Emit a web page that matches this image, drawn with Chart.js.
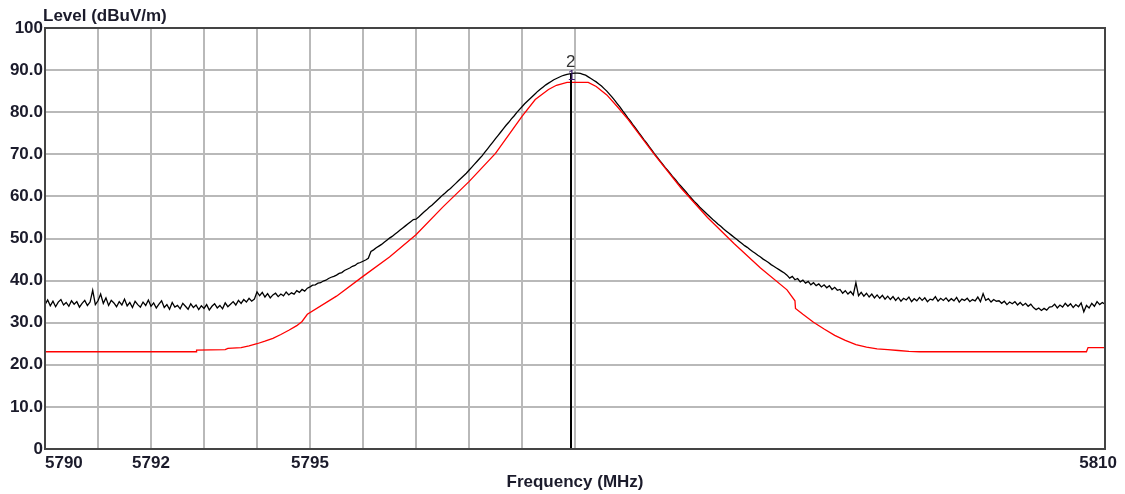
<!DOCTYPE html>
<html>
<head>
<meta charset="utf-8">
<script src="https://cdn.jsdelivr.net/npm/chart.js@4.4.1/dist/chart.umd.min.js"></script>
<style>
  html, body { margin: 0; padding: 0; background: #fff; }
  #myChart { display: block; }
</style>
</head>
<body>
<canvas id="myChart" width="1125" height="494"></canvas>
<script>
// black trace: peak level, one reading every 0.05 MHz from 5790 to 5810 (one row per MHz)
var blackStart = 5790;
var blackStep = 0.05;
var blackLevel = [
  34.3, 35.4, 34.0, 35.1, 33.8, 34.9, 35.5, 34.2, 34.8, 33.9, 35.2, 34.4, 35.0, 33.7, 34.6, 35.3, 34.1, 34.9, 37.7, 34.3,
  35.2, 36.8, 34.6, 35.9, 34.1, 35.3, 34.7, 33.8, 35.0, 34.2, 35.6, 34.0, 34.8, 33.6, 35.1, 34.3, 33.7, 34.9, 34.1, 35.4,
  33.9, 34.7, 33.5, 34.4, 35.2, 33.6, 34.3, 33.2, 34.8, 33.7, 34.1, 33.3, 34.6, 33.9, 33.2, 34.5, 33.6, 34.2, 33.1, 34.0,
  33.4, 34.3, 33.0, 33.9, 34.5, 33.5, 34.1, 33.3, 34.7, 33.8, 34.4, 35.0, 34.2, 35.3, 34.6, 35.5, 34.9, 35.8, 35.1, 35.6,
  37.3, 36.4, 37.2, 36.1, 36.9, 35.9, 36.6, 37.0, 36.2, 36.8, 36.4, 37.3, 36.6, 37.1, 36.8, 37.6, 37.2, 37.9, 37.5, 38.2,
  38.5, 38.9, 39.0, 39.4, 39.5, 39.9, 40.1, 40.5, 40.8, 41.0, 41.3, 41.7, 41.9, 42.4, 42.7, 43.0, 43.4, 43.6, 44.1, 44.3,
  44.6, 44.9, 45.3, 46.9, 47.3, 47.8, 48.2, 48.6, 49.1, 49.6, 50.1, 50.5, 51.0, 51.5, 52.0, 52.5, 53.0, 53.5, 54.0, 54.5,
  54.6, 55.1, 55.7, 56.3, 56.8, 57.4, 57.9, 58.5, 59.1, 59.7, 60.3, 60.8, 61.4, 61.9, 62.5, 63.1, 63.7, 64.3, 64.9, 65.5,
  66.2, 66.9, 67.6, 68.3, 69.0, 69.7, 70.5, 71.3, 72.1, 72.9, 73.7, 74.5, 75.3, 76.1, 76.9, 77.6, 78.4, 79.1, 79.9, 80.6,
  81.3, 82.0, 82.6, 83.2, 83.8, 84.4, 85.0, 85.5, 86.0, 86.5, 86.9, 87.3, 87.7, 88.0, 88.3, 88.6, 88.8, 89.0, 89.1, 89.2,
  89.3, 89.3, 89.2, 89.0, 88.8, 88.4, 88.0, 87.6, 87.2, 86.7, 86.2, 85.6, 85.0, 84.3, 83.6, 82.8, 82.0, 81.2, 80.3, 79.5,
  78.6, 77.8, 76.9, 76.1, 75.2, 74.4, 73.5, 72.7, 71.8, 71.0, 70.1, 69.3, 68.5, 67.7, 66.9, 66.2, 65.4, 64.6, 63.9, 63.1,
  62.4, 61.7, 61.0, 60.2, 59.5, 58.8, 58.2, 57.5, 56.9, 56.3, 55.7, 55.1, 54.5, 54.0, 53.4, 52.9, 52.3, 51.8, 51.3, 50.8,
  50.3, 49.8, 49.3, 48.8, 48.3, 47.9, 47.4, 46.9, 46.5, 46.0, 45.6, 45.1, 44.7, 44.3, 43.8, 43.4, 43.0, 42.6, 42.2, 41.8,
  41.3, 40.6, 41.0, 40.2, 40.5, 39.7, 40.1, 39.4, 39.8, 39.0, 39.5, 38.8, 39.2, 38.5, 39.0, 38.3, 38.8, 37.9, 38.4, 37.7,
  37.9, 37.0, 37.6, 36.8, 37.4, 36.6, 39.5, 36.4, 37.2, 36.3, 37.0, 36.1, 36.8, 35.9, 36.6, 35.8, 36.5, 35.6, 36.3, 35.5,
  36.2, 35.3, 36.0, 35.1, 35.8, 35.4, 36.1, 35.0, 35.7, 35.2, 36.0, 35.3, 35.9, 35.0, 35.6, 35.4, 36.2, 35.1, 35.8, 35.3,
  35.9, 35.1, 35.7, 35.2, 36.0, 34.9, 35.6, 35.3, 35.8, 35.0, 35.5, 35.2, 36.1, 35.0, 36.9, 35.3, 35.7, 34.9, 35.5, 35.1,
  35.2, 34.6, 35.1, 34.3, 34.9, 34.5, 35.0, 34.2, 34.8, 34.1, 34.6, 33.9, 34.4, 33.6, 33.1, 33.5, 32.9, 33.4, 33.0, 33.7,
  33.8, 34.4, 33.5, 34.2, 33.7, 34.6, 33.9, 34.5, 33.6, 34.3, 33.8, 34.7, 32.6, 34.1, 33.5, 34.6, 33.9, 35.0, 34.3, 34.8,
  34.4
];

// red trace: average level, read at the bends of the curve
var redFreq = [
  5790.0, 5792.85, 5792.86, 5793.4, 5793.45, 5793.7, 5793.85, 5794.0, 5794.15, 5794.3,
  5794.45, 5794.6, 5794.75, 5794.85, 5794.95, 5795.5, 5796.0, 5796.5, 5797.0, 5797.5,
  5798.0, 5798.5, 5798.75, 5799.0, 5799.25, 5799.5, 5799.65, 5799.85, 5800.25, 5800.4,
  5800.6, 5800.8, 5801.0, 5801.5, 5802.0, 5802.5, 5803.0, 5803.5, 5804.0, 5804.15,
  5804.16, 5804.3, 5804.5, 5804.7, 5804.9, 5805.1, 5805.3, 5805.5, 5805.7, 5805.9,
  5806.1, 5806.3, 5806.5, 5809.65, 5809.68, 5810.0
];
var redLevel = [
  23.1, 23.1, 23.5, 23.6, 23.9, 24.1, 24.5, 25.0, 25.6, 26.3,
  27.2, 28.2, 29.3, 30.3, 32.0, 36.3, 41.0, 45.6, 50.9, 57.4,
  63.5, 70.2, 74.6, 79.0, 83.0, 85.4, 86.4, 87.1, 87.1, 86.1,
  84.1, 81.3, 78.3, 69.9, 62.0, 55.0, 48.8, 43.0, 37.8, 35.2,
  33.4, 32.0, 30.1, 28.5, 27.0, 25.8, 24.8, 24.2, 23.8, 23.6,
  23.4, 23.2, 23.1, 23.1, 24.1, 24.1
];

// markers 1 and 2
var markerName = ['1', '2'];
var markerFreq = [5799.92, 5799.92];
var markerLevel = [87.1, 89.2];

var gridFreq = [5790, 5791, 5792, 5793, 5794, 5795, 5796, 5797, 5798, 5799, 5800, 5810];
var labelFreq = [5790, 5792, 5795, 5810];
var yTicks = [0, 10, 20, 30, 40, 50, 60, 70, 80, 90, 100];

var textColor = '#1b1b2b';
var labelFont = 'bold 17px "Liberation Sans", Arial, sans-serif';

function toPoints(xs, ys) {
  var pts = [];
  for (var i = 0; i < ys.length; i++) {
    pts.push({ x: xs[i], y: ys[i] });
  }
  return pts;
}

var blackFreq = [];
for (var i = 0; i < blackLevel.length; i++) {
  blackFreq.push(+(blackStart + i * blackStep).toFixed(2));
}

var frameAndText = {
  id: 'frameAndText',
  afterDraw: function (chart) {
    var c = chart.ctx;
    var a = chart.chartArea;
    var xs = chart.scales.x;
    var ys = chart.scales.y;
    c.save();
    // marker line from the top marker down to the axis
    var mx = Math.round(xs.getPixelForValue(markerFreq[1]));
    var my = ys.getPixelForValue(markerLevel[1]);
    c.strokeStyle = '#000';
    c.lineWidth = 2;
    c.beginPath();
    c.moveTo(mx, my);
    c.lineTo(mx, a.bottom);
    c.stroke();
    c.textAlign = 'center';
    c.textBaseline = 'middle';
    c.font = '14px "Liberation Sans", Arial, sans-serif';
    c.fillStyle = '#3a1a6a';
    c.fillText(markerName[0], xs.getPixelForValue(markerFreq[0]) + 1, ys.getPixelForValue(markerLevel[0]) - 6);
    c.font = '17px "Liberation Sans", Arial, sans-serif';
    c.fillStyle = '#333';
    c.fillText(markerName[1], xs.getPixelForValue(markerFreq[1]), ys.getPixelForValue(markerLevel[1]) - 11);

    // frame
    c.strokeStyle = '#444';
    c.lineWidth = 2;
    c.strokeRect(a.left, a.top, a.right - a.left, a.bottom - a.top);

    // x tick labels
    c.font = labelFont;
    c.fillStyle = textColor;
    c.textBaseline = 'middle';
    for (var k = 0; k < labelFreq.length; k++) {
      var px = xs.getPixelForValue(labelFreq[k]);
      if (k === 0) {
        c.textAlign = 'left';
      } else if (k === labelFreq.length - 1) {
        c.textAlign = 'right';
        px = px + 12;
      } else {
        c.textAlign = 'center';
      }
      c.fillText(String(labelFreq[k]), px, a.bottom + 14);
    }
    // axis titles
    c.textAlign = 'center';
    c.fillText('Frequency (MHz)', (a.left + a.right) / 2, 482);
    c.textAlign = 'left';
    c.fillText('Level (dBuV/m)', a.left - 2, 16);
    c.restore();
  }
};

var ctx = document.getElementById('myChart').getContext('2d');
var chart = new Chart(ctx, {
  type: 'line',
  data: {
    datasets: [{
      label: 'Average',
      data: toPoints(redFreq, redLevel),
      borderColor: '#ff0000',
      borderWidth: 1.3,
      pointRadius: 0,
      tension: 0,
      fill: false
    }, {
      label: 'Peak',
      data: toPoints(blackFreq, blackLevel),
      borderColor: '#000000',
      borderWidth: 1.3,
      pointRadius: 0,
      tension: 0,
      fill: false
    }]
  },
  options: {
    responsive: false,
    animation: false,
    devicePixelRatio: 1,
    layout: { padding: { top: 28, right: 20, left: 0, bottom: 0 } },
    plugins: {
      legend: { display: false },
      tooltip: { enabled: false }
    },
    scales: {
      x: {
        type: 'linear',
        min: 5790,
        max: 5810,
        afterBuildTicks: function (scale) {
          scale.ticks = gridFreq.map(function (v) { return { value: v }; });
        },
        afterFit: function (scale) { scale.height = 45; },
        ticks: { display: false, autoSkip: false },
        border: { display: false },
        grid: {
          drawTicks: false,
          lineWidth: 2,
          color: function (c) {
            var v = c.tick ? c.tick.value : null;
            return (v === 5790 || v === 5810) ? 'rgba(0,0,0,0)' : '#b9b9b9';
          }
        }
      },
      y: {
        min: 0,
        max: 100,
        afterBuildTicks: function (scale) {
          scale.ticks = yTicks.map(function (v) { return { value: v }; });
        },
        afterFit: function (scale) { scale.width = 45; },
        border: { display: false },
        grid: {
          drawTicks: false,
          lineWidth: 2,
          color: function (c) {
            var v = c.tick ? c.tick.value : null;
            return (v === 0 || v === 100) ? 'rgba(0,0,0,0)' : '#b9b9b9';
          }
        },
        ticks: {
          autoSkip: false,
          padding: 2,
          color: textColor,
          font: { family: '"Liberation Sans", Arial, sans-serif', size: 17, weight: 'bold' },
          callback: function (v) {
            if (v === 0 || v === 100) return String(v);
            return v.toFixed(1);
          }
        }
      }
    }
  },
  plugins: [frameAndText]
});
</script>
</body>
</html>
